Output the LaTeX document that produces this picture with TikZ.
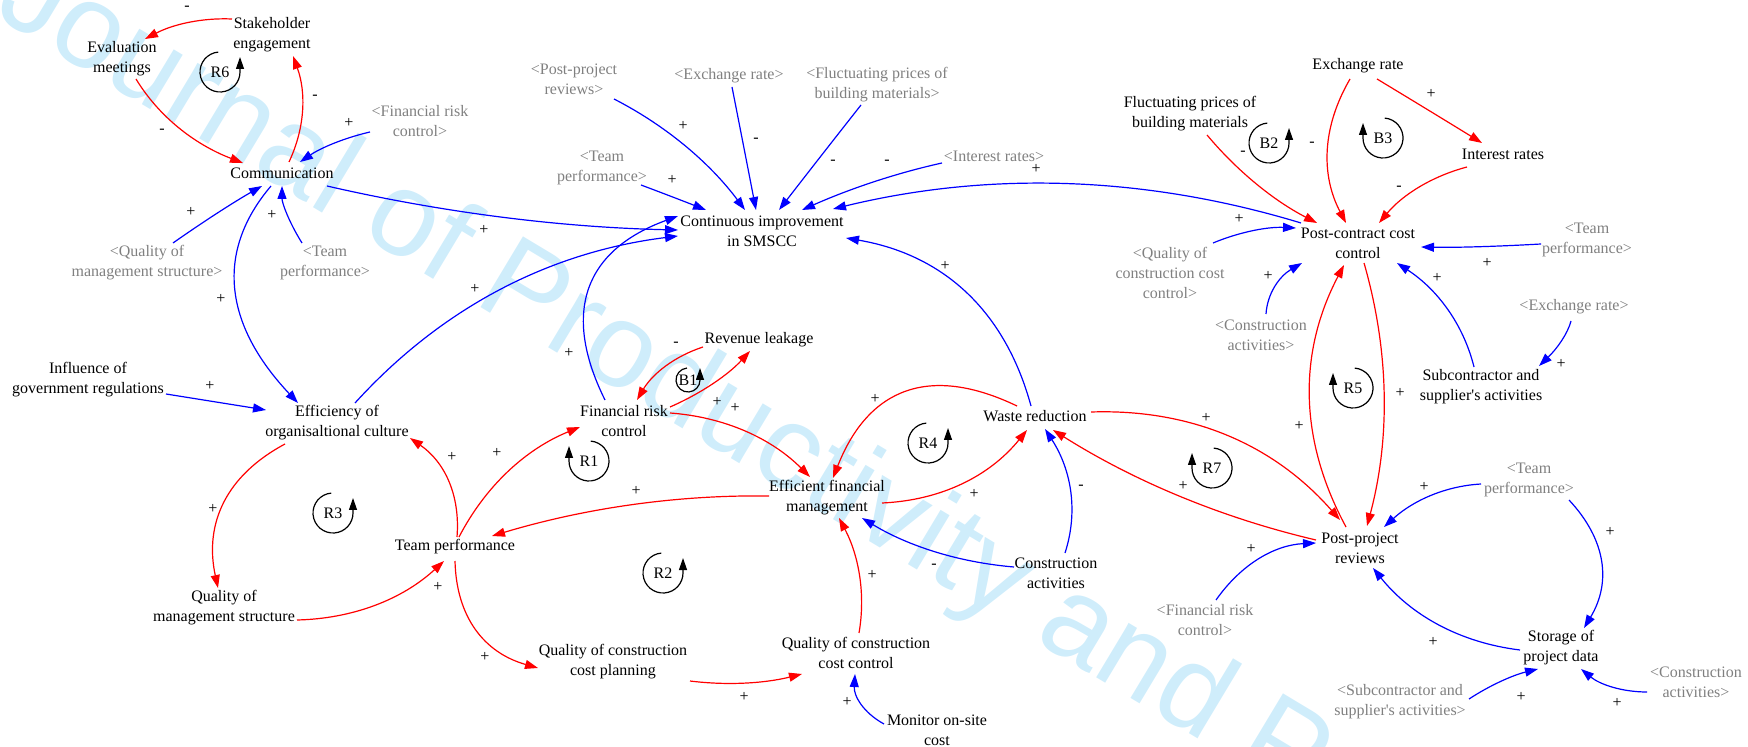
\documentclass[tikz,border=0pt]{standalone}
\usepackage{fontspec}
\setmainfont{Liberation Serif}
\newfontfamily\wmfont{Liberation Sans}
\usetikzlibrary{arrows.meta,calc}
\definecolor{wmblue}{RGB}{207,237,251}
\definecolor{shgray}{RGB}{128,128,128}
% link: style, from, offset, quad control, to, offset, label pos, label
\newcommand\lnk[8]{%
  \path ($(#2)+(#3)$) coordinate (lkA) ($(#5)+(#6)$) coordinate (lkB);
  \draw[#1] (lkA) .. controls ($(lkA)!0.6667!(#4)$) and ($(lkB)!0.6667!(#4)$) .. (lkB);
  \node[pol] (pl-#2-#5) at (#7) {#8};}
\newcommand\lpR[5]{\node[lp] (#1) at (#2) {#3};
  \draw[loopst] ($(#1)+(95:#4)$) arc (95:360:#4) -- ++(0pt,#5);}
\newcommand\lpL[5]{\node[lp] (#1) at (#2) {#3};
  \draw[loopst] ($(#1)+(85:#4)$) arc (85:-180:#4) -- ++(0pt,#5);}
\newcommand\apo{\textquotesingle}
\begin{document}
\begin{tikzpicture}[x=0.5pt,y=-0.5pt,
  var/.style={font=\fontsize{8}{10}\selectfont, align=center, inner sep=0pt},
  shv/.style={var, text=shgray},
  pol/.style={font=\fontsize{8}{10}\selectfont, inner sep=0pt},
  lp/.style={font=\fontsize{8}{10}\selectfont, inner sep=0pt},
  ra/.style={draw=red, line width=0.6pt, -{Triangle[length=6.5pt,width=4.5pt]}},
  ba/.style={draw=blue, line width=0.6pt, -{Triangle[length=6.5pt,width=4.5pt]}},
  loopst/.style={draw=black, line width=0.6pt, -{Triangle[length=6pt,width=4pt]}},
  wm/.style={anchor=base west, rotate=-31, inner sep=0pt, text=wmblue,
    font=\wmfont\fontsize{60}{60}\selectfont}]
\useasboundingbox (0,0) rectangle (1748,747);
\begin{scope}
\clip (0,0) rectangle (1748,747);
\node[wm] (wmark) at (-8,14) {Journal of Productivity and P};
\end{scope}

% variables
\node[var] (stake) at (272,35) {Stakeholder\\engagement};
\node[var] (evalm) at (122,59) {Evaluation\\meetings};
\node[var] (comm) at (282,173) {Communication};
\node[shv] (sFin1) at (420,121) {<Financial risk\\control>};
\node[shv] (sQMS) at (147,263) {<Quality of\\management structure>};
\node[shv] (sTeam1) at (325,263) {<Team\\performance>};
\node[var] (infl) at (88,380) {Influence of\\government regulations};
\node[shv] (sPPR) at (574,79) {<Post-project\\reviews>};
\node[shv] (sEx1) at (729,76) {<Exchange rate>};
\node[shv] (sFluct) at (877,85) {<Fluctuating prices of\\building materials>};
\node[shv] (sTeam2) at (602,168) {<Team\\performance>};
\node[shv] (sInt) at (994,156) {<Interest rates>};
\node[var] (cont) at (762,231) {Continuous improvement\\in SMSCC};
\node[var] (rev) at (759,340) {Revenue leakage};
\node[var] (exr) at (1358,66) {Exchange rate};
\node[var] (fluct) at (1190,114) {Fluctuating prices of\\building materials};
\node[var] (intr) at (1503,154) {Interest rates};
\node[var] (pcc) at (1358,243) {Post-contract cost\\control};
\node[shv] (sTeam4) at (1587,240) {<Team\\performance>};
\node[shv] (sQCCC) at (1170,273) {<Quality of\\construction cost\\control>};
\node[shv] (sCA1) at (1261,335) {<Construction\\activities>};
\node[shv] (sEx2) at (1574,307) {<Exchange rate>};
\node[var] (subc) at (1481,387) {Subcontractor and\\supplier\apo s activities};
\node[var] (eff) at (337,423) {Efficiency of\\organisaltional culture};
\node[var] (team) at (455,547) {Team performance};
\node[var] (qms) at (224,608) {Quality of\\management structure};
\node[var] (qccp) at (613,662) {Quality of construction\\cost planning};
\node[var] (fin) at (624,421) {Financial risk\\control};
\node[var] (waste) at (1035,416) {Waste reduction};
\node[var] (efm) at (827,498) {Efficient financial\\management};
\node[var] (ca) at (1056,573) {Construction\\activities};
\node[var] (qccc) at (856,653) {Quality of construction\\cost control};
\node[var] (mon) at (937,730) {Monitor on-site\\cost};
\node[var] (ppr) at (1360,548) {Post-project\\reviews};
\node[shv] (sTeam3) at (1529,480) {<Team\\performance>};
\node[shv] (sFin3) at (1205,620) {<Financial risk\\control>};
\node[var] (store) at (1561,648) {Storage of\\project data};
\node[shv] (sSub3) at (1400,702) {<Subcontractor and\\supplier\apo s activities>};
\node[shv] (sCA3) at (1696,682) {<Construction\\activities>};

% links
\lnk{ra}{stake}{-40,-16}{187,17}{evalm}{23,-20}{187,8}{-}
\lnk{ra}{evalm}{14,20}{170,135}{comm}{-39,-10}{162,131}{-}
\lnk{ra}{comm}{7,-11}{313,111}{stake}{21,21}{315,97}{-}
\lnk{ba}{sFin1}{-50,11}{331,141}{comm}{18,-11}{349,123}{+}
\lnk{ba}{sQMS}{26,-20}{220,210}{comm}{-20,13}{191,212}{+}
\lnk{ba}{sTeam1}{-23,-20}{282,211}{comm}{0,13}{272,215}{+}
\lnk{ba}{comm}{-11,13}{187,285}{eff}{-39,-20}{221,299}{+}
\lnk{ba}{comm}{45,13}{501,226}{cont}{-84,-1}{484,230}{+}
\lnk{ba}{eff}{18,-20}{485,260}{cont}{-84,5}{475,289}{+}
\lnk{ba}{fin}{-19,-21}{539,267}{cont}{-84,-15}{569,353}{+}
\lnk{ba}{sPPR}{40,20}{692,139}{cont}{-17,-21}{683,126}{+}
\lnk{ba}{sEx1}{3,11}{744,148}{cont}{-6,-21}{756,140}{-}
\lnk{ba}{sFluct}{-16,20}{820,157}{cont}{17,-21}{833,162}{-}
\lnk{ba}{sInt}{-52,7}{874,178}{cont}{40,-21}{887,162}{-}
\lnk{ba}{sTeam2}{39,17}{673,197}{cont}{-56,-21}{672,180}{+}
\lnk{ba}{pcc}{-57,-20}{1067,152}{cont}{71,-22}{1036,169}{+}
\lnk{ba}{waste}{-4,-10}{992,263}{cont}{84,7}{945,266}{+}
\lnk{ba}{infl}{78,14}{216,402}{eff}{-71,-13}{210,386}{+}
\lnk{ra}{fluct}{17,21}{1253,190}{pcc}{-41,-20}{1243,153}{-}
\lnk{ra}{exr}{-8,13}{1308,151}{pcc}{-12,-20}{1312,144}{-}
\lnk{ra}{exr}{19,13}{1430,111}{intr}{-21,-11}{1431,94}{+}
\lnk{ra}{intr}{-36,13}{1414,181}{pcc}{21,-20}{1399,188}{-}
\lnk{ba}{sQCCC}{43,-30}{1254,226}{pcc}{-62,-15}{1239,219}{+}
\lnk{ba}{sCA1}{5,-21}{1268,283}{pcc}{-56,20}{1268,276}{+}
\lnk{ba}{sTeam4}{-46,4}{1470,248}{pcc}{63,4}{1487,263}{+}
\lnk{ba}{subc}{-7,-20}{1458,303}{pcc}{39,20}{1437,278}{+}
\lnk{ba}{sEx2}{-3,14}{1566,340}{subc}{58,-21}{1561,364}{+}
\lnk{ra}{pcc}{6,20}{1402,395}{ppr}{7,-22}{1400,393}{+}
\lnk{ra}{ppr}{-14,-21}{1275,396}{pcc}{-14,22}{1299,426}{+}
\lnk{ra}{waste}{56,-4}{1241,407}{ppr}{-20,-28}{1206,418}{+}
\lnk{ra}{ppr}{-44,-8}{1175,507}{waste}{18,14}{1183,486}{+}
\lnk{ba}{sTeam3}{-48,4}{1428,487}{ppr}{24,-21}{1424,487}{+}
\lnk{ba}{sTeam3}{40,20}{1625,560}{store}{23,-20}{1610,532}{+}
\lnk{ba}{store}{-41,2}{1430,639}{ppr}{13,20}{1433,642}{+}
\lnk{ba}{sFin3}{11,-20}{1254,546}{ppr}{-44,-5}{1251,549}{+}
\lnk{ba}{sSub3}{69,-3}{1501,678}{store}{-23,21}{1521,697}{+}
\lnk{ba}{sCA3}{-49,10}{1609,692}{store}{20,21}{1617,703}{+}
\lnk{ra}{fin}{46,-14}{718,386}{rev}{-9,11}{717,402}{+}
\lnk{ra}{rev}{-56,7}{660,361}{fin}{13,-21}{676,344}{-}
\lnk{ra}{fin}{46,-8}{752,419}{efm}{-17,-21}{735,408}{+}
\lnk{ra}{efm}{-58,-2}{632,494}{team}{37,-11}{636,491}{+}
\lnk{ra}{team}{4,-10}{499,460}{fin}{-44,6}{497,453}{+}
\lnk{ra}{team}{2,-10}{462,474}{eff}{73,15}{452,457}{+}
\lnk{ra}{eff}{-52,21}{197,491}{qms}{-6,-20}{213,509}{+}
\lnk{ra}{qms}{73,12}{382,618}{team}{-11,14}{438,587}{+}
\lnk{ra}{team}{0,14}{457,645}{qccp}{-75,6}{485,657}{+}
\lnk{ra}{qccp}{77,19}{746,688}{qccc}{-54,21}{744,697}{+}
\lnk{ra}{qccc}{3,-20}{869,575}{efm}{12,20}{872,575}{+}
\lnk{ba}{mon}{-53,-6}{853,707}{qccc}{-1,21}{847,702}{+}
\lnk{ba}{ca}{-42,-6}{931,560}{efm}{35,20}{934,566}{-}
\lnk{ba}{ca}{9,-20}{1085,491}{waste}{10,13}{1081,487}{-}
\lnk{ra}{efm}{55,5}{971,499}{waste}{-8,14}{974,494}{+}
\lnk{ra}{waste}{-18,-10}{886,343}{efm}{6,-20}{875,399}{+}

% loop markers
\lpR{R6}{220,72}{R6}{10pt}{7.5pt}
\lpR{B2}{1269,143}{B2}{10pt}{7.5pt}
\lpL{B3}{1383,138}{B3}{10pt}{7.5pt}
\lpL{R1}{589,461}{R1}{10pt}{7.5pt}
\lpR{B1}{688,380}{B1}{6pt}{6pt}
\lpR{R3}{333,513}{R3}{10pt}{7.5pt}
\lpR{R4}{928,443}{R4}{10pt}{7.5pt}
\lpR{R2}{663,573}{R2}{10pt}{7.5pt}
\lpL{R7}{1212,468}{R7}{10pt}{7.5pt}
\lpL{R5}{1353,388}{R5}{10pt}{7.5pt}
\end{tikzpicture}
\end{document}
